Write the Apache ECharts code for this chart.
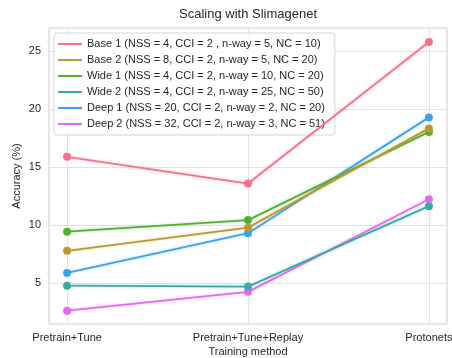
<!DOCTYPE html>
<html>
<head>
<meta charset="utf-8">
<script src="https://cdn.jsdelivr.net/npm/echarts@6/dist/echarts.min.js"></script>
<style>
  html, body { margin: 0; padding: 0; background: #fff; }
  #chart { width: 452px; height: 358px; }
</style>
</head>
<body>
<div id="chart"></div>
<script>
// training methods on the x axis
var methods = ['Pretrain+Tune', 'Pretrain+Tune+Replay', 'Protonets'];

var names = [
  'Base 1 (NSS = 4, CCI = 2 , n-way = 5, NC = 10)',
  'Base 2 (NSS = 8, CCI = 2, n-way = 5, NC = 20)',
  'Wide 1 (NSS = 4, CCI = 2, n-way = 10, NC = 20)',
  'Wide 2 (NSS = 4, CCI = 2, n-way = 25, NC = 50)',
  'Deep 1 (NSS = 20, CCI = 2, n-way = 2, NC = 20)',
  'Deep 2 (NSS = 32, CCI = 2, n-way = 3, NC = 51)'
];

// accuracy (%) per method
var base1 = [15.9, 13.6, 25.8];
var base2 = [7.8, 9.8, 18.35];
var wide1 = [9.45, 10.45, 18.05];
var wide2 = [4.8, 4.72, 11.65];
var deep1 = [5.9, 9.32, 19.3];
var deep2 = [2.65, 4.27, 12.25];

var yTicks = [5, 10, 15, 20, 25];

var colors = ['#f77189', '#bb9832', '#50b131', '#36ada4', '#3ba3ec', '#e866f4'];
var allValues = [base1, base2, wide1, wide2, deep1, deep2];

var FONT = 'Liberation Sans, Arial, sans-serif';

var series = allValues.map(function (vals, k) {
  return {
    name: names[k],
    type: 'line',
    data: vals.map(function (v, i) { return [i, v]; }),
    symbol: 'circle',
    symbolSize: 8,
    z: 10 - k,
    itemStyle: { color: colors[k] },
    lineStyle: {
      width: 1.8,
      color: colors[k],
      shadowColor: echarts.color.modifyAlpha(colors[k], 0.4),
      shadowBlur: 3
    },
    emphasis: { disabled: true },
    animation: false
  };
});

var myChart = echarts.init(document.getElementById('chart'));
var option = {
  animation: false,
  textStyle: { fontFamily: FONT },
  title: {
    text: 'Scaling with Slimagenet',
    left: 179,
    top: 8,
    padding: 0,
    textStyle: { fontFamily: FONT, fontSize: 13, fontWeight: 'normal', color: '#262626' }
  },
  legend: {
    orient: 'vertical',
    left: 54,
    top: 33,
    padding: [4, 10, 4, 4],
    itemGap: 2,
    itemWidth: 24,
    itemHeight: 2,
    icon: 'rect',
    backgroundColor: 'rgba(255,255,255,0.85)',
    borderColor: '#d6d6d6',
    borderWidth: 1,
    borderRadius: 3,
    textStyle: { fontFamily: FONT, fontSize: 11, color: '#262626', lineHeight: 14 },
    data: names
  },
  grid: {
    left: 49,
    right: 5,
    top: 28,
    bottom: 34,
    outerBoundsMode: 'none',
    containLabel: false,
    show: true,
    borderColor: '#d0d0d0',
    borderWidth: 1
  },
  xAxis: {
    type: 'value',
    min: -0.1,
    max: 2.1,
    name: 'Training method',
    nameLocation: 'middle',
    nameGap: 22,
    nameMoveOverlap: false,
    nameTextStyle: { fontFamily: FONT, fontSize: 11, color: '#262626' },
    axisLine: { show: false },
    axisTick: { show: false, customValues: [0, 1, 2] },
    axisLabel: {
      customValues: [0, 1, 2],
      formatter: function (v) { return methods[Math.round(v)]; },
      fontFamily: FONT,
      fontSize: 11,
      color: '#262626',
      margin: 8
    },
    splitLine: { show: true, lineStyle: { color: '#e3e3e3', width: 1 } }
  },
  yAxis: {
    type: 'value',
    min: 1.5,
    max: 27,
    name: 'Accuracy (%)',
    nameLocation: 'middle',
    nameGap: 27,
    nameMoveOverlap: false,
    nameTextStyle: { fontFamily: FONT, fontSize: 11, color: '#262626' },
    axisLine: { show: false },
    axisTick: { show: false, customValues: yTicks },
    axisLabel: {
      customValues: yTicks,
      fontFamily: FONT,
      fontSize: 11,
      color: '#262626',
      margin: 8
    },
    splitLine: { show: true, lineStyle: { color: '#e3e3e3', width: 1 } }
  },
  series: series
};
myChart.setOption(option);
</script>
</body>
</html>
